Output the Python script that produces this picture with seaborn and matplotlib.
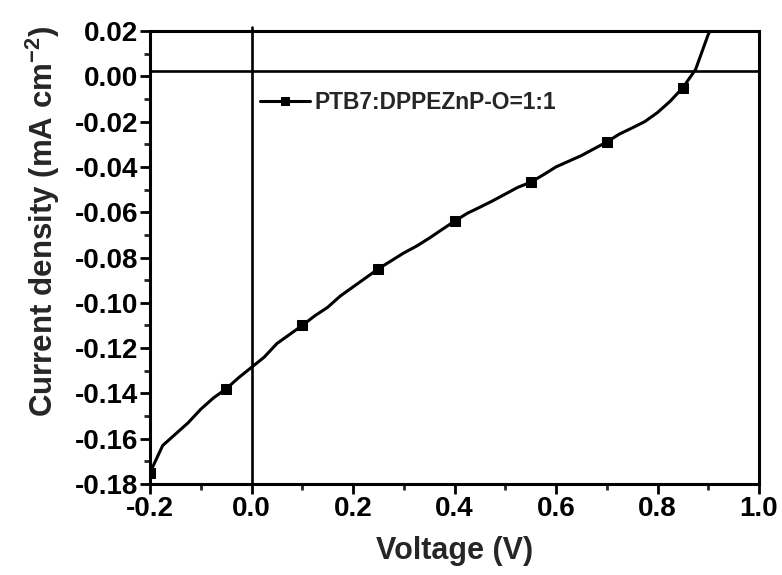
import matplotlib
matplotlib.use("Agg")
import matplotlib.pyplot as plt
import seaborn as sns
import pandas as pd

voltage = [-0.200, -0.175, -0.150, -0.125, -0.100, -0.075, -0.050, -0.025,
           0.000, 0.025, 0.050, 0.075, 0.100, 0.125, 0.150, 0.175,
           0.200, 0.225, 0.250, 0.275, 0.300, 0.325, 0.350, 0.375,
           0.400, 0.425, 0.450, 0.475, 0.500, 0.525, 0.550, 0.575,
           0.600, 0.625, 0.650, 0.675, 0.700, 0.725, 0.750, 0.775,
           0.800, 0.825, 0.850, 0.875, 0.900, 0.905]
current = [-0.175, -0.163, -0.158, -0.153, -0.147, -0.142, -0.138, -0.133,
           -0.1285, -0.124, -0.118, -0.114, -0.110, -0.1057, -0.102, -0.097,
           -0.093, -0.089, -0.085, -0.0815, -0.078, -0.075, -0.0715, -0.0677,
           -0.064, -0.0605, -0.0578, -0.055, -0.052, -0.049, -0.0468, -0.0435,
           -0.040, -0.0375, -0.035, -0.032, -0.029, -0.0255, -0.0228, -0.020,
           -0.016, -0.011, -0.005, 0.003, 0.0185, 0.0205]
series_label = "PTB7:DPPEZnP-O=1:1"
x_ticks = [-0.2, 0.0, 0.2, 0.4, 0.6, 0.8, 1.0]
y_ticks = [0.02, 0.00, -0.02, -0.04, -0.06, -0.08, -0.10, -0.12, -0.14, -0.16, -0.18]
hline_y = 0.0022

df = pd.DataFrame({"V": voltage, "J": current})

sns.set_style("ticks")
plt.rcParams["font.family"] = ["Liberation Sans", "DejaVu Sans"]
plt.rcParams["font.weight"] = "bold"
plt.rcParams["mathtext.fontset"] = "custom"
plt.rcParams["mathtext.rm"] = "Liberation Sans:bold"
plt.rcParams["mathtext.it"] = "Liberation Sans:bold"
plt.rcParams["mathtext.bf"] = "Liberation Sans:bold"

fig = plt.figure(figsize=(7.82, 5.75), dpi=100)
ax = fig.add_axes([150 / 782, 1 - 484 / 575, 609 / 782, 453 / 575])

sns.lineplot(data=df, x="V", y="J", ax=ax, color="black", linewidth=2.2,
             marker="s", markersize=7, markevery=6, markeredgecolor="black",
             markerfacecolor="black", label=series_label, sort=False)

ax.axhline(hline_y, color="black", linewidth=1.9)
ax.axvline(0.0, color="black", linewidth=1.9, ymax=1.008, clip_on=False)

ax.set_xlim(-0.2, 1.0)
ax.set_ylim(-0.18, 0.02)
ax.set_xticks(x_ticks)
ax.set_xticklabels([f"{v:.1f}" for v in x_ticks])
ax.set_yticks(y_ticks)
ax.set_yticklabels([f"{v:.2f}" for v in y_ticks])
ax.set_xticks([-0.1, 0.1, 0.3, 0.5, 0.7, 0.9], minor=True)
ax.set_yticks([0.01, -0.01, -0.03, -0.05, -0.07, -0.09, -0.11, -0.13, -0.15, -0.17], minor=True)

ax.tick_params(axis="both", which="major", direction="out", length=7, width=2.0,
               labelsize=20, colors="black", pad=1.5)
ax.tick_params(axis="both", which="minor", direction="out", length=4, width=2.0)
for lbl in ax.get_xticklabels() + ax.get_yticklabels():
    lbl.set_fontweight("bold")

for s in ax.spines.values():
    s.set_visible(True)
    s.set_linewidth(2.2)
    s.set_color("black")

ax.set_xlabel("Voltage (V)", fontsize=22, fontweight="bold")
ax.set_ylabel("Current density (mA cm$^{-2}$)", fontsize=22.5, fontweight="bold")
ax.xaxis.set_label_coords(0.5, -0.115)
ax.yaxis.set_label_coords(-0.145, 0.58)

leg = ax.legend(loc="center left", bbox_to_anchor=((260 - 150) / 609, (484 - 102.7) / 453),
                frameon=False, fontsize=16.4, handlelength=2.2, handletextpad=0.2,
                borderpad=0, borderaxespad=0, markerscale=0.85)
for t in leg.get_texts():
    t.set_fontweight("bold")

fig.savefig("out.png", dpi=100)
